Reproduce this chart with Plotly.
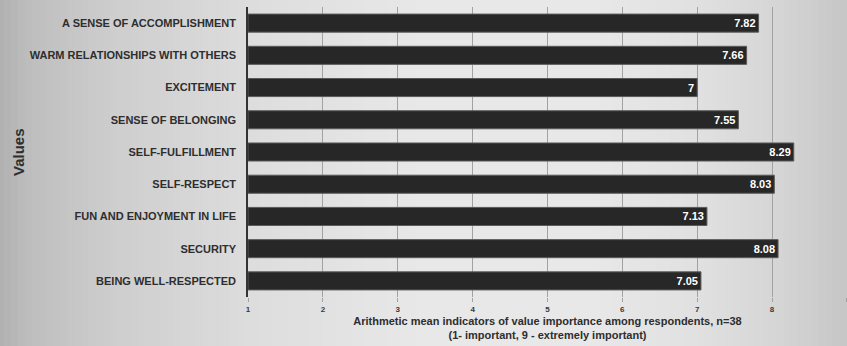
import plotly.graph_objects as go

# Survey results: mean importance of each value (scale 1-9), n=38
categories = [
    "A SENSE OF ACCOMPLISHMENT",
    "WARM RELATIONSHIPS WITH OTHERS",
    "EXCITEMENT",
    "SENSE OF BELONGING",
    "SELF-FULFILLMENT",
    "SELF-RESPECT",
    "FUN AND ENJOYMENT IN LIFE",
    "SECURITY",
    "BEING WELL-RESPECTED",
]
mean_scores = [7.82, 7.66, 7, 7.55, 8.29, 8.03, 7.13, 8.08, 7.05]
x_ticks = [1, 2, 3, 4, 5, 6, 7, 8, 9]

FONT = "Liberation Sans, Arial, sans-serif"
TEXT_DARK = "#2e2e2e"

fig = go.Figure(
    go.Bar(
        y=categories,
        x=[v - 1 for v in mean_scores],
        base=1,
        orientation="h",
        marker=dict(color="#272727", line=dict(color="#5a5a5a", width=1)),
        text=[f"{v:g}" for v in mean_scores],
        textposition="inside",
        insidetextanchor="end",
        textfont=dict(family=FONT, size=11, color="white", weight="bold"),
        cliponaxis=False,
        hoverinfo="skip",
    )
)

# Soft grey horizontal gradient behind the whole figure (darker at both edges)
stops = [(0.00, 176), (0.04, 190), (0.14, 206), (0.30, 221), (0.50, 232),
         (0.70, 232), (0.82, 225), (0.92, 213), (1.00, 198)]

def shade_at(t):
    for (t0, c0), (t1, c1) in zip(stops, stops[1:]):
        if t0 <= t <= t1:
            return c0 + (c1 - c0) * (t - t0) / (t1 - t0)
    return stops[-1][1]

n_strips = 120
shapes = []
for i in range(n_strips):
    t0, t1 = i / n_strips, (i + 1) / n_strips
    g = int(round(shade_at((t0 + t1) / 2)))
    shapes.append(dict(
        type="rect", xref="paper", yref="paper", layer="below",
        x0=-0.42 + 1.42 * t0, x1=-0.42 + 1.42 * t1 + 0.002,
        y0=-0.17, y1=1.03,
        fillcolor=f"rgb({g},{g},{g})", line=dict(width=0),
    ))

fig.update_layout(
    width=847,
    height=346,
    margin=dict(l=248, r=0, t=7, b=49),
    paper_bgcolor="rgb(205,205,205)",
    plot_bgcolor="rgba(0,0,0,0)",
    bargap=0.44,
    showlegend=False,
    shapes=shapes,
    font=dict(family=FONT, color=TEXT_DARK),
    xaxis=dict(
        range=[1, 9.001],
        tickvals=x_ticks,
        ticktext=[str(t) for t in x_ticks],
        showgrid=True,
        gridcolor="#a2a2a2",
        gridwidth=1,
        zeroline=False,
        showline=False,
        ticks="outside",
        ticklen=4,
        tickcolor="#a2a2a2",
        tickfont=dict(family=FONT, size=8, color="#3a3a3a", weight="bold"),
        title=dict(
            text="Arithmetic mean indicators of value importance among respondents, n=38"
                 "<br>(1- important, 9 - extremely important)",
            font=dict(family=FONT, size=11, color=TEXT_DARK, weight="bold"),
            standoff=4,
        ),
        fixedrange=True,
    ),
    yaxis=dict(
        categoryorder="array",
        categoryarray=categories,
        autorange="reversed",
        showgrid=False,
        showline=True,
        linecolor="#333333",
        linewidth=1.5,
        ticks="",
        ticklabelstandoff=8,
        tickfont=dict(family=FONT, size=11, color=TEXT_DARK, weight="bold"),
        fixedrange=True,
    ),
    annotations=[
        dict(
            text="Values", xref="paper", yref="paper",
            x=(18 - 248) / 599, y=0.5, xanchor="center", yanchor="middle",
            textangle=-90, showarrow=False,
            font=dict(family=FONT, size=15, color=TEXT_DARK, weight="bold"),
        )
    ],
)

fig.write_html("out.html")
